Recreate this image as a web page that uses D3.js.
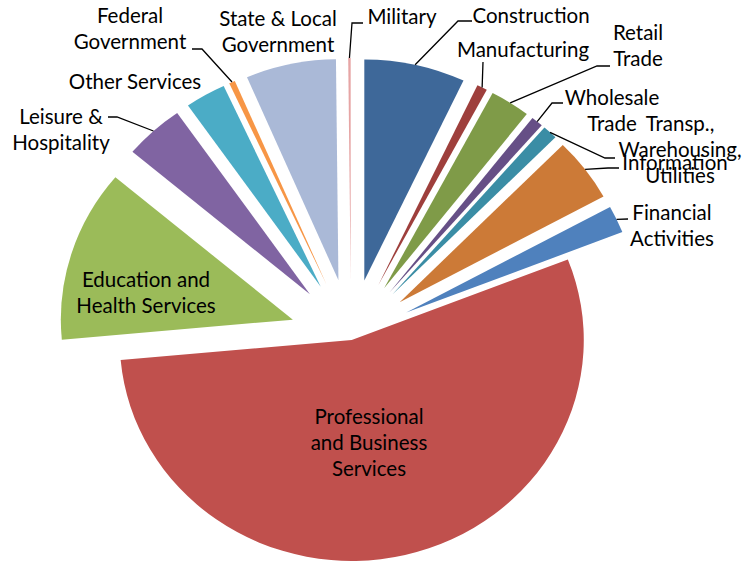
<!DOCTYPE html>
<html>
<head>
<meta charset="utf-8">
<script src="https://cdn.jsdelivr.net/npm/d3@7/dist/d3.min.js"></script>
<style>
  body { margin: 0; background: #fff; }
  text { font-family: Lato, "Open Sans", sans-serif; fill: #000; }
</style>
</head>
<body>
<svg id="chart" width="750" height="563"></svg>
<script>
// sector shares (% of total), clockwise from 12 o'clock
const categories = ["Construction", "Manufacturing", "Retail Trade", "Wholesale Trade",
  "Transp., Warehousing, Utilities", "Information", "Financial Activities",
  "Professional and Business Services", "Education and Health Services",
  "Leisure & Hospitality", "Other Services", "Federal Government",
  "State & Local Government", "Military"];
const shares = [7.03, 0.72, 2.8, 0.83, 1.03, 4.67, 2.0, 54.5, 12.6, 4.17, 2.83, 0.42, 6.28, 0.17];
const colors = ["#3e6899", "#9e3f3c", "#7f9b48", "#664f86", "#3a8da5", "#cc7a37", "#4f81bd",
  "#c0504d", "#9bbb59", "#8064a2", "#4bacc6", "#f79646", "#aab9d7", "#e6a5a5"];

// label text as broken in the chart
const labelLines = [["Construction"], ["Manufacturing"], ["Retail", "Trade"], ["Wholesale", "Trade"],
  ["Transp.,", "Warehousing,", "Utilities"], ["Information"], ["Financial", "Activities"],
  ["Professional", "and Business", "Services"], ["Education and", "Health Services"],
  ["Leisure &", "Hospitality"], ["Other Services"], ["Federal", "Government"],
  ["State & Local", "Government"], ["Military"]];

// layout: label centre (first line) and leader points on the label side
const labelPos = [[531, 16], [523, 50], [638, 33], [612, 98], [680, 124], [675, 163], [672, 213],
  [369, 417], [146, 280], [61, 117], [135, 82], [130, 16], [278, 19], [402, 17]];
const leaders = [[[458, 21], [472, 21]], [[483, 62]], [[597, 66], [610, 66]], [[552, 103], [563, 103]],
  [[605, 158], [615, 158]], [[608, 168], [619, 168]], [[628, 219]], null, null,
  [[117, 117], [108, 117]], null, [[202, 49], [192, 49]], null, [[352, 23], [363, 23]]];

const cx = 351, cy = 337, R = 221, sx = 1.05, lineH = 26;
const explode = i => categories[i] === "Professional and Business Services" ? 3 : 58;

const svg = d3.select("#chart");

const pie = d3.pie().sort(null).value(d => d)(shares);
const arc = d3.arc().innerRadius(0).outerRadius(R);

const mid = d => (d.startAngle + d.endAngle) / 2;

svg.append("g").selectAll("path").data(pie).enter().append("path")
  .attr("d", arc)
  .attr("fill", (d, i) => colors[i])
  .attr("transform", (d, i) => {
    const e = explode(i);
    return `translate(${cx + sx * e * Math.sin(mid(d))},${cy - e * Math.cos(mid(d))}) scale(${sx},1)`;
  });

// leader lines start on the slice rim at its mid angle
const line = d3.line();
svg.append("g").selectAll("path").data(pie.filter((d, i) => leaders[i])).enter().append("path")
  .attr("d", d => {
    const i = d.index, r = explode(i) + R;
    const a = [cx + sx * r * Math.sin(mid(d)), cy - r * Math.cos(mid(d))];
    return line([a].concat(leaders[i]));
  })
  .attr("fill", "none")
  .attr("stroke", "#000")
  .attr("stroke-width", 1.3);

const labels = svg.append("g").selectAll("text").data(labelLines).enter().append("text")
  .attr("text-anchor", "middle")
  .attr("font-size", "20.5px");

labels.selectAll("tspan").data((d, i) => d.map(t => ({ t, i }))).enter().append("tspan")
  .attr("x", d => labelPos[d.i][0])
  .attr("y", (d, j) => labelPos[d.i][1] + j * lineH)
  .attr("dy", "0.35em")
  .text(d => d.t);
</script>
</body>
</html>
